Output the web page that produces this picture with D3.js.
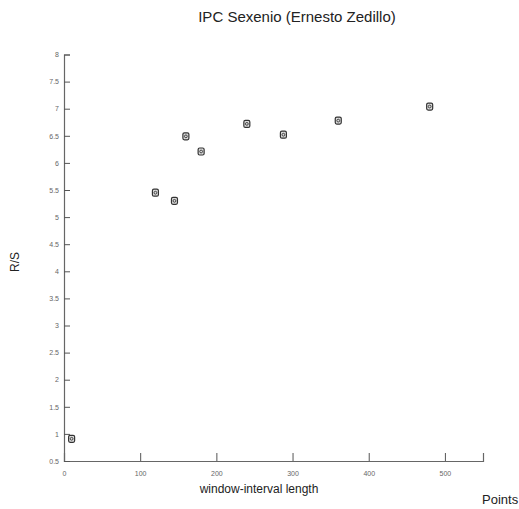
<!DOCTYPE html>
<html><head><meta charset="utf-8">
<script src="https://cdn.jsdelivr.net/npm/d3@7"></script>
<style>body{margin:0;background:#fff}</style>
</head><body>
<script>
const windowLengths = [10, 120, 145, 160, 180, 240, 288, 360, 480];
const rsValues = [0.91, 5.45, 5.30, 6.49, 6.21, 6.72, 6.52, 6.78, 7.04];
const xTicks = [0, 100, 200, 300, 400, 500];
const yTicks = [0.5, 1, 1.5, 2, 2.5, 3, 3.5, 4, 4.5, 5, 5.5, 6, 6.5, 7, 7.5, 8];

const W = 519, H = 509;
const svg = d3.select("body").append("svg").attr("width", W).attr("height", H)
  .style("font-family", "'Liberation Sans', Arial, sans-serif");

const x = d3.scaleLinear().domain([0, 550]).range([64, 483]);
const y = d3.scaleLinear().domain([0.5, 8]).range([461, 54.5]);

const xAxis = svg.append("g").attr("transform", `translate(0,${y(0.5)})`)
  .call(d3.axisBottom(x).tickValues(xTicks).tickSize(-8).tickPadding(10).tickFormat(d3.format("d")));
const yAxis = svg.append("g").attr("transform", `translate(${x(0)},0)`)
  .call(d3.axisLeft(y).tickValues(yTicks).tickSize(-6).tickPadding(11).tickFormat(d => String(d)));

[xAxis, yAxis].forEach(g => {
  g.select(".domain").attr("stroke", "#666").attr("stroke-width", 1.2);
  g.selectAll(".tick line").attr("stroke", "#555");
  g.selectAll(".tick text").attr("fill", "#666").style("font-size", "7px");
});
yAxis.selectAll(".tick text").attr("dx", 6);

const pts = svg.append("g").selectAll("g").data(windowLengths).join("g")
  .attr("transform", (d, i) => `translate(${x(d)},${y(rsValues[i])})`);
pts.append("rect").attr("x", -3).attr("y", -3.5).attr("width", 6).attr("height", 7).attr("rx", 1.5)
  .attr("fill", "#ddd").attr("stroke", "#333").attr("stroke-width", 1.2);
pts.append("circle").attr("r", 1.4).attr("fill", "none").attr("stroke", "#333").attr("stroke-width", 0.9);

svg.append("text").attr("x", 297).attr("y", 22).attr("text-anchor", "middle")
  .style("font-size", "15px").attr("fill", "#222").text("IPC Sexenio (Ernesto Zedillo)");
svg.append("text").attr("x", 259).attr("y", 493).attr("text-anchor", "middle")
  .style("font-size", "12px").attr("fill", "#222").text("window-interval length");
svg.append("text").attr("x", 482).attr("y", 504)
  .style("font-size", "13px").attr("fill", "#222").text("Points");
svg.append("text").attr("transform", "translate(19,262) rotate(-90)").attr("text-anchor", "middle")
  .style("font-size", "12px").attr("fill", "#222").text("R/S");
</script>
</body></html>
